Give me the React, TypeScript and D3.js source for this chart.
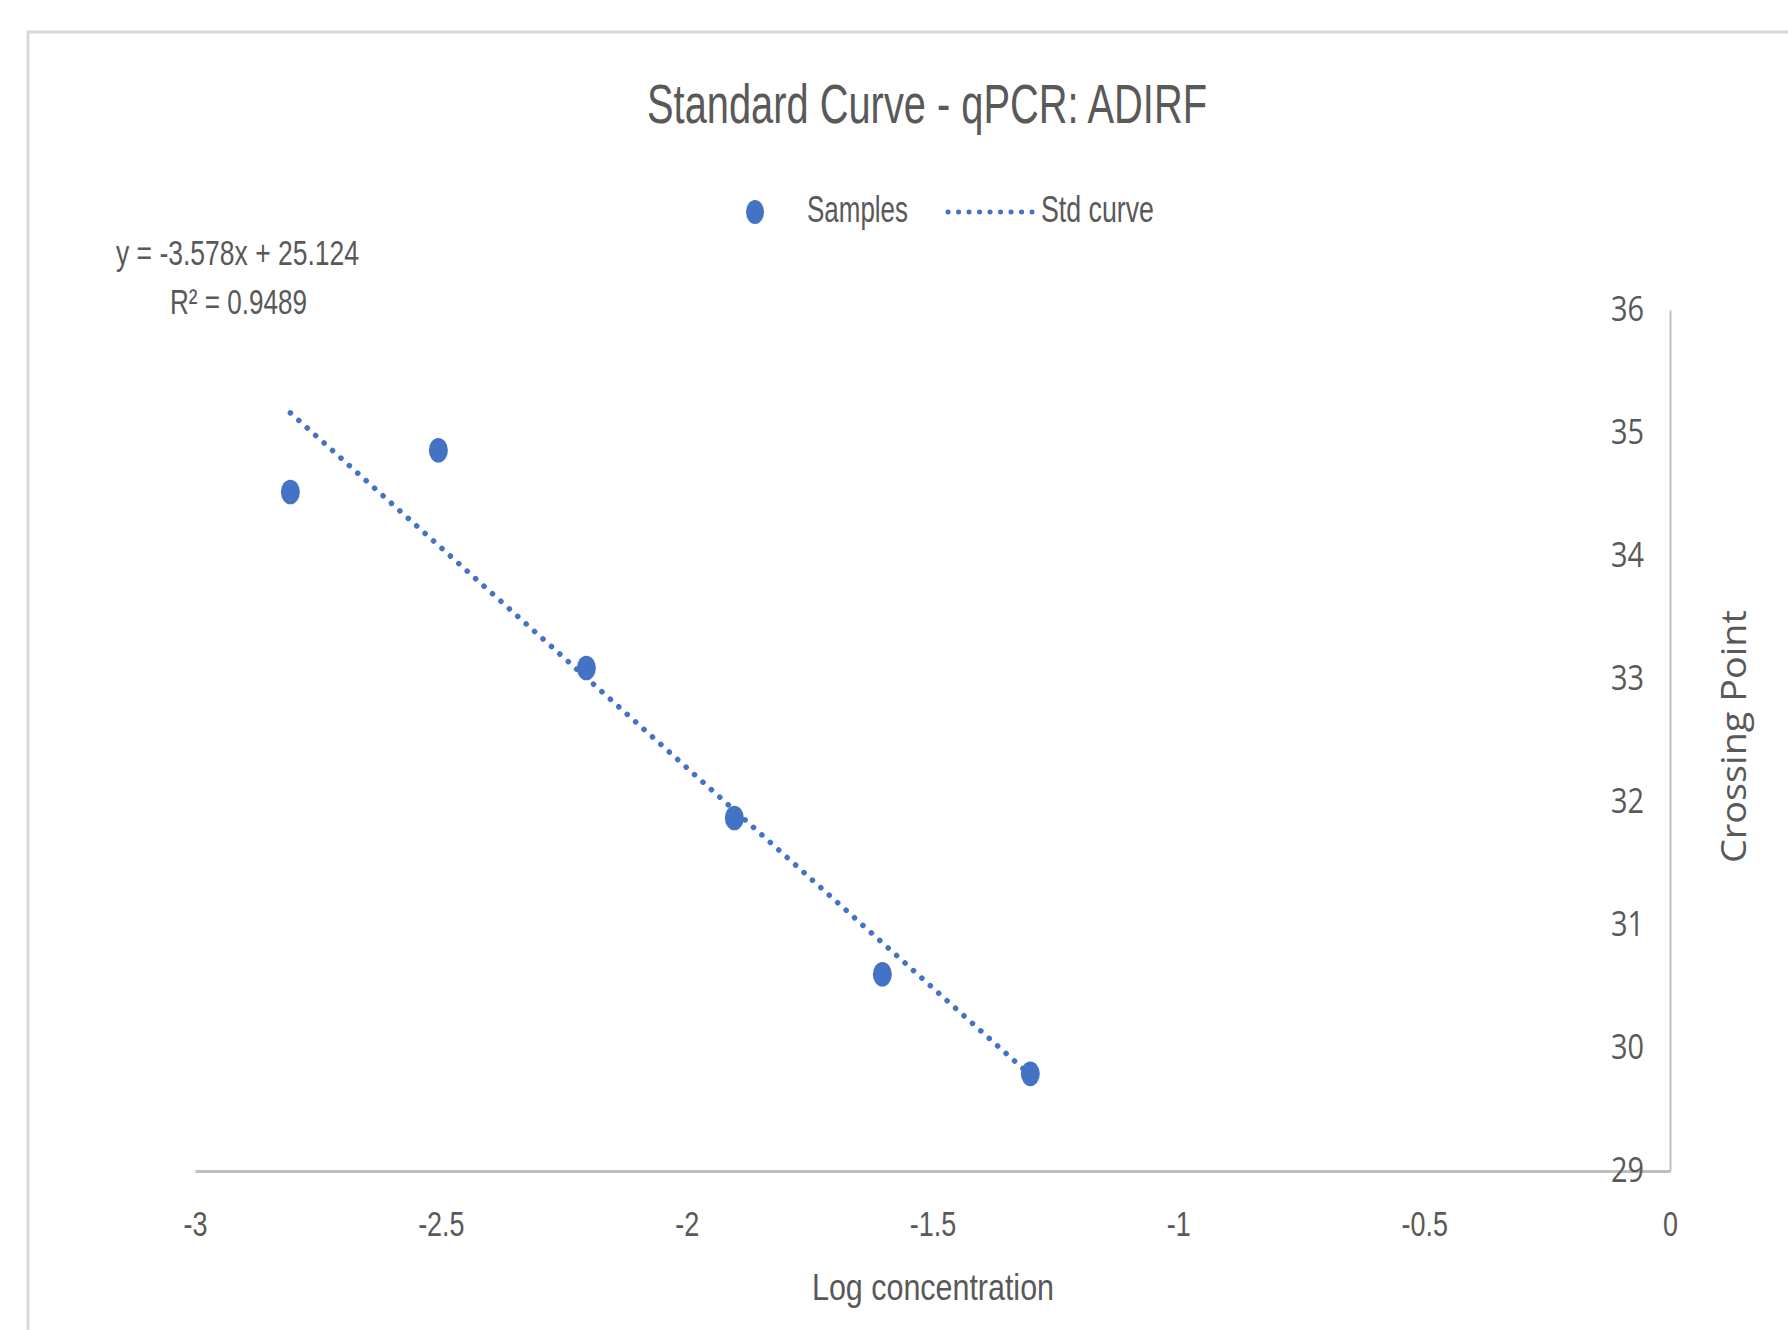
import React, { useEffect, useRef } from "react";
import * as d3 from "d3";

// samples (two-fold dilution series)
const logConc = [-2.806, -2.505, -2.204, -1.903, -1.602, -1.301];
const crossingPoint = [34.52, 34.86, 33.09, 31.87, 30.6, 29.79];

// fitted line as printed on the chart
const slope = -3.578;
const intercept = 25.124;
const rSquared = 0.9489;

const xTicks = [-3, -2.5, -2, -1.5, -1, -0.5, 0];
const yTicks = [29, 30, 31, 32, 33, 34, 35, 36];

const W = 1788;
const H = 1330;
const BLUE = "#4472C4";
const TEXT = "#595959";
const AXIS = "#BFBFBF";
const SQUEEZE = 0.77;

function App() {
  const ref = useRef<SVGSVGElement>(null);

  useEffect(() => {
    const svg = d3.select(ref.current);
    svg.selectAll("*").remove();

    const xScale = d3.scaleLinear().domain([-3, 0]).range([195, 1670]);
    const yScale = d3.scaleLinear().domain([29, 36]).range([1171, 310]);

    // chart frame
    svg
      .append("rect")
      .attr("x", 28)
      .attr("y", 32)
      .attr("width", W)
      .attr("height", H)
      .attr("fill", "#fff")
      .attr("stroke", "#D9D9D9")
      .attr("stroke-width", 3);

    const label = (s: string, x: number, y: number, size: number, len: number) =>
      svg
        .append("text")
        .attr("x", x)
        .attr("y", y)
        .attr("font-family", "Liberation Sans")
        .attr("font-size", size)
        .attr("fill", TEXT)
        .attr("textLength", len)
        .attr("lengthAdjust", "spacingAndGlyphs")
        .text(s);

    // title
    label("Standard Curve - qPCR: ADIRF", 647, 123, 56, 560);

    // legend
    svg
      .append("ellipse")
      .attr("cx", 755)
      .attr("cy", 212)
      .attr("rx", 9)
      .attr("ry", 12)
      .attr("fill", BLUE);
    label("Samples", 807, 222, 36, 101);
    svg
      .append("line")
      .attr("x1", 948)
      .attr("x2", 1032)
      .attr("y1", 212)
      .attr("y2", 212)
      .attr("stroke", BLUE)
      .attr("stroke-width", 5)
      .attr("stroke-linecap", "round")
      .attr("stroke-dasharray", "0.1 10.4");
    label("Std curve", 1041, 222, 36, 113);

    // trendline equation
    label(`y = ${slope}x + ${intercept}`, 116, 265, 35, 243);
    label(`R² = ${rSquared}`, 170, 314, 35, 137);

    // X-axis
    const xAxis = svg
      .append("g")
      .attr("transform", `translate(0, ${yScale(29)})`)
      .call(
        d3
          .axisBottom(xScale)
          .tickValues(xTicks)
          .tickSize(0)
          .tickSizeOuter(0)
          .tickPadding(40)
          .tickFormat((d) => String(d))
      );
    xAxis.select(".domain").attr("stroke", AXIS).attr("stroke-width", 3);
    xAxis
      .selectAll("text")
      .attr("font-family", "Liberation Sans")
      .attr("font-size", 35)
      .attr("fill", TEXT)
      .attr("transform", `scale(${SQUEEZE},1)`);

    // Y-axis (on the right, labels inside)
    const yAxis = svg
      .append("g")
      .attr("transform", `translate(${xScale(0)}, 0)`)
      .call(
        d3
          .axisLeft(yScale)
          .tickValues(yTicks)
          .tickSize(0)
          .tickSizeOuter(0)
          .tickPadding(26 / 0.85)
          .tickFormat(d3.format("d"))
      );
    yAxis.select(".domain").attr("stroke", AXIS).attr("stroke-width", 2);
    yAxis
      .selectAll("text")
      .attr("font-family", "Open Sans")
      .attr("font-size", 34)
      .attr("fill", TEXT)
      .attr("transform", "scale(0.85,1)");

    // axis titles
    label("Log concentration", 812, 1300, 36, 242);
    svg
      .append("text")
      .attr("transform", "translate(1746, 863) rotate(-90)")
      .attr("font-family", "Open Sans")
      .attr("font-size", 34)
      .attr("fill", TEXT)
      .attr("textLength", 253)
      .attr("lengthAdjust", "spacingAndGlyphs")
      .text("Crossing Point");

    // Std curve
    const fitX = d3.extent(logConc) as [number, number];
    const line = d3
      .line<number>()
      .x((d) => xScale(d))
      .y((d) => yScale(slope * d + intercept));
    svg
      .append("path")
      .datum(fitX)
      .attr("fill", "none")
      .attr("stroke", BLUE)
      .attr("stroke-width", 5.5)
      .attr("stroke-linecap", "round")
      .attr("stroke-dasharray", "0.1 11.2")
      .attr("d", line);

    // Samples
    svg
      .append("g")
      .selectAll("ellipse")
      .data(logConc)
      .join("ellipse")
      .attr("cx", (d) => xScale(d))
      .attr("cy", (d, i) => yScale(crossingPoint[i]))
      .attr("rx", 9.5)
      .attr("ry", 12.3)
      .attr("fill", BLUE);
  }, []);

  return (
    <svg
      ref={ref}
      width={W}
      height={H}
      style={{ position: "absolute", left: 0, top: 0, background: "#fff" }}
    ></svg>
  );
}

export default App;
